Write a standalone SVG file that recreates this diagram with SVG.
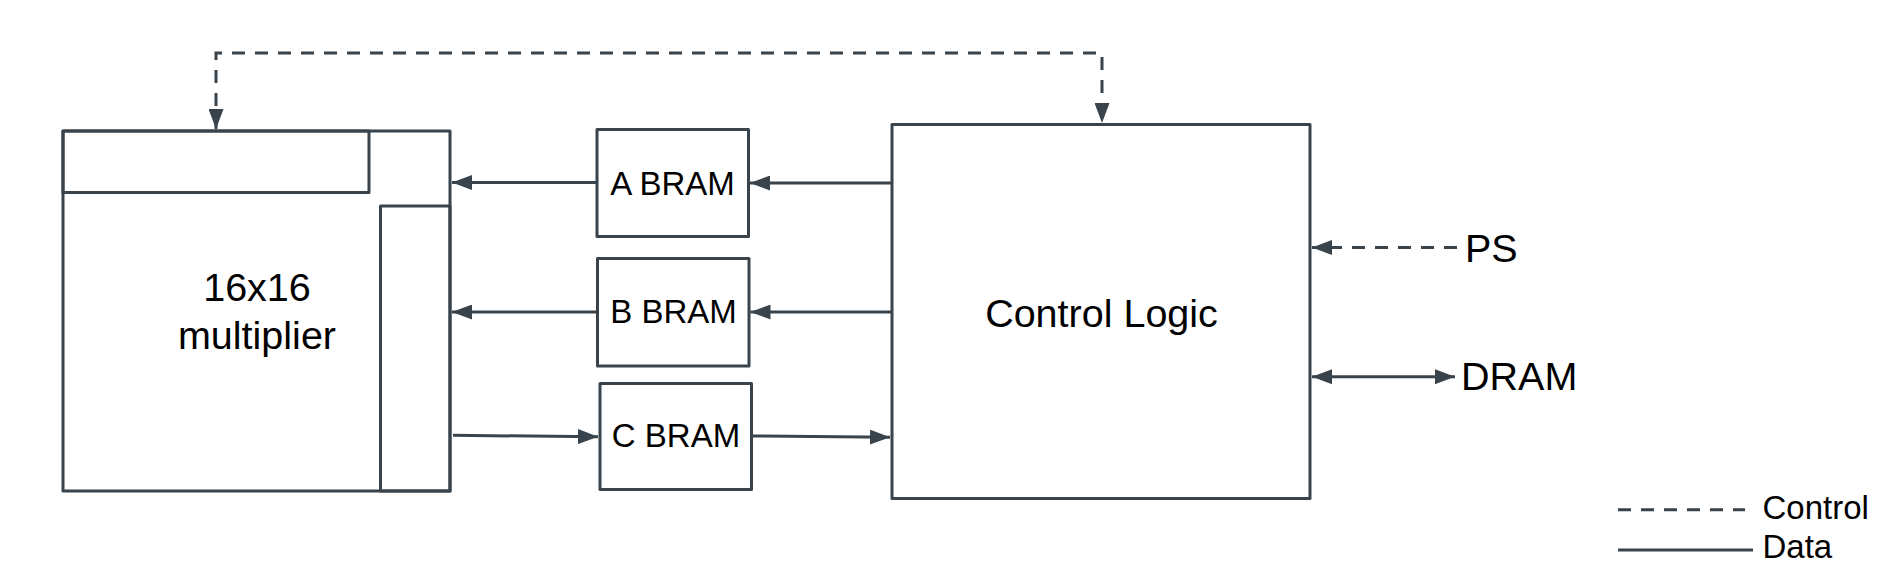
<svg xmlns="http://www.w3.org/2000/svg" width="1895" height="579" viewBox="0 0 1895 579">
<style>
.box{fill:#ffffff;stroke:#38434b;stroke-width:3;stroke-linejoin:round}
.bar{fill:none;stroke:#38434b;stroke-width:3;stroke-linejoin:round}
.data{fill:none;stroke:#38434b;stroke-width:3}
.ctrl{fill:none;stroke:#38434b;stroke-width:3;stroke-dasharray:13 10}
.lbl{font-family:"Liberation Sans",Arial,sans-serif;fill:#000000}
.big{font-size:39.5px}
.mid{font-size:33px}
</style>
<defs>
<marker id="ah" viewBox="0 0 20 15" markerWidth="20" markerHeight="15" refX="20" refY="7.5" orient="auto-start-reverse" markerUnits="userSpaceOnUse">
<path d="M0,0 L20,7.5 L0,15 z" fill="#38434b"/>
</marker>
</defs>
<rect width="1895" height="579" fill="#ffffff"/>
<g id="multiplier">
<rect class="box" x="63" y="131" width="387" height="360"/>
<rect class="bar" x="63" y="131" width="306" height="61.5"/>
<rect class="bar" x="380.5" y="206" width="69.5" height="285"/>
<text class="lbl big" x="257" y="301" text-anchor="middle">16x16</text>
<text class="lbl big" x="257" y="349" text-anchor="middle">multiplier</text>
</g>
<g id="a-bram">
<rect class="box" x="597" y="129.5" width="151.5" height="107"/>
<text class="lbl mid" x="672.5" y="195" text-anchor="middle">A BRAM</text>
</g>
<g id="b-bram">
<rect class="box" x="597.5" y="258.5" width="151.5" height="107.5"/>
<text class="lbl mid" x="673.5" y="323" text-anchor="middle">B BRAM</text>
</g>
<g id="c-bram">
<rect class="box" x="600" y="383.5" width="151.5" height="106"/>
<text class="lbl mid" x="676" y="447" text-anchor="middle">C BRAM</text>
</g>
<g id="control-logic">
<rect class="box" x="892" y="124.5" width="418" height="374"/>
<text class="lbl big" x="1101.5" y="327" text-anchor="middle">Control Logic</text>
</g>
<g id="ps">
<text class="lbl big" x="1465" y="262">PS</text>
</g>
<g id="dram">
<text class="lbl big" x="1461" y="390">DRAM</text>
</g>
<g id="connectors">
<path class="ctrl" d="M216,129 L216,53 L1102,53 L1102,123" marker-start="url(#ah)" marker-end="url(#ah)"/>
<path class="data" d="M596,182.5 L452,182.5" marker-end="url(#ah)"/>
<path class="data" d="M892,183 L750,183" marker-end="url(#ah)"/>
<path class="data" d="M597,312 L452,312" marker-end="url(#ah)"/>
<path class="data" d="M892,312 L750.5,312" marker-end="url(#ah)"/>
<path class="data" d="M453,435.3 L598,436.8" marker-end="url(#ah)"/>
<path class="data" d="M752.5,436 L890,437.3" marker-end="url(#ah)"/>
<path class="ctrl" d="M1457,247.5 L1312,247.5" marker-end="url(#ah)"/>
<path class="data" d="M1312,376.7 L1455,376.7" marker-start="url(#ah)" marker-end="url(#ah)"/>
</g>
<g id="legend">
<line class="ctrl" x1="1618" y1="509.7" x2="1745" y2="509.7"/>
<line class="data" x1="1618" y1="550" x2="1753" y2="550"/>
<text class="lbl mid" x="1762.5" y="518.5">Control</text>
<text class="lbl mid" x="1762.5" y="557.5">Data</text>
</g>
</svg>
